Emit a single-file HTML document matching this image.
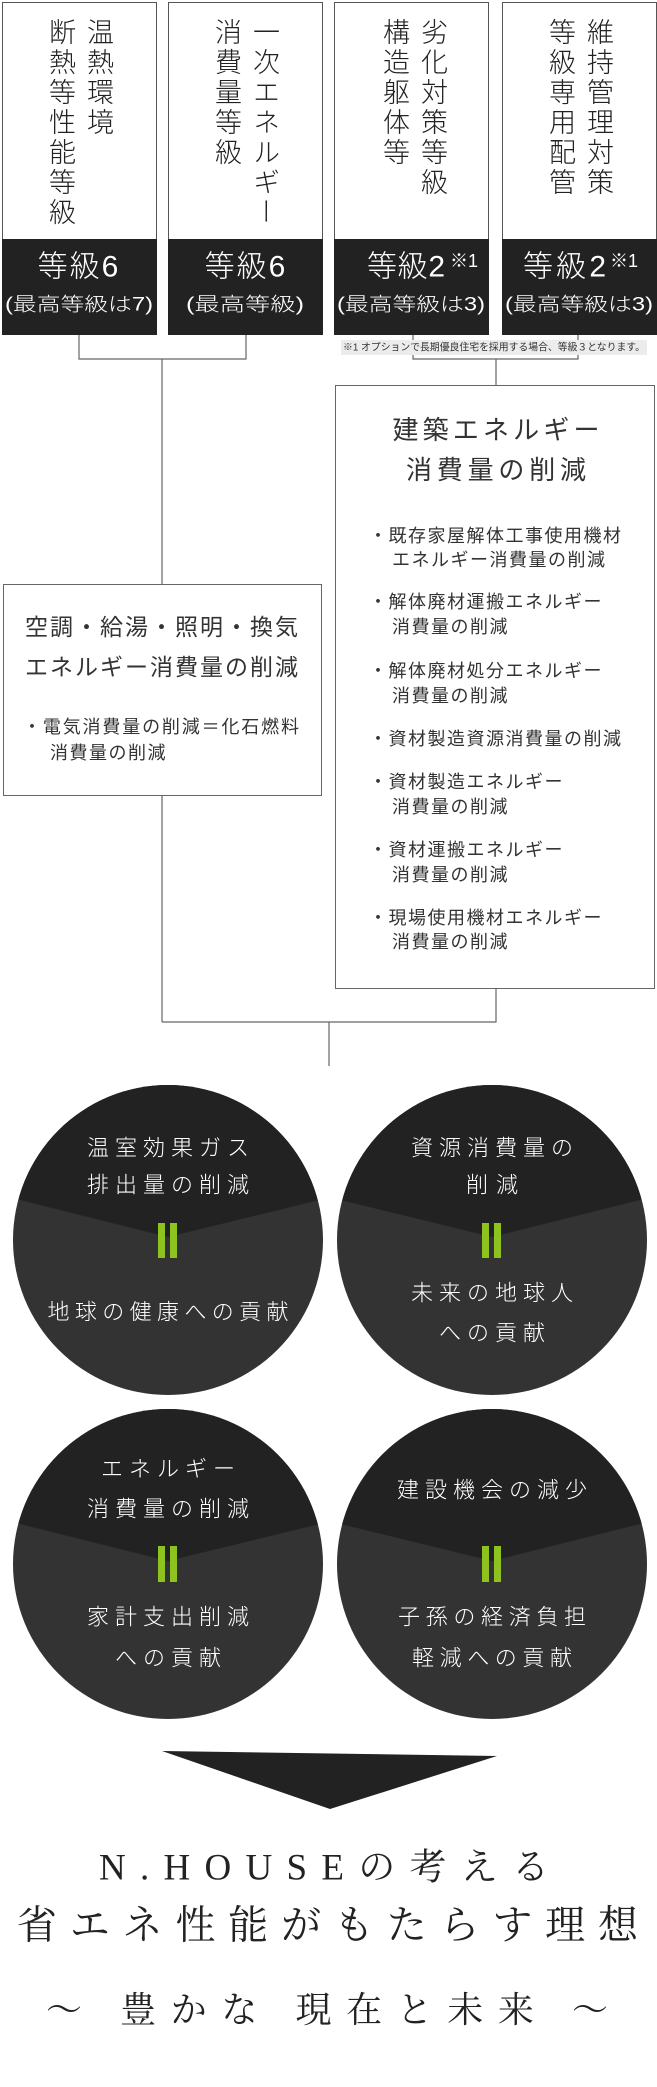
<!DOCTYPE html>
<html><head><meta charset="utf-8">
<style>
html,body{margin:0;padding:0;background:#fff;}
body{width:657px;height:2087px;position:relative;overflow:hidden;font-family:"Liberation Sans","Noto Sans CJK JP",sans-serif;}
.v{position:absolute;writing-mode:vertical-rl;font-size:27px;letter-spacing:3px;line-height:38px;color:#222;font-family:"Liberation Sans","Noto Sans CJK JP",sans-serif;font-weight:300;white-space:pre;}
svg{position:absolute;left:0;top:0;}
</style></head>
<body>
<svg width="657" height="2087" viewBox="0 0 657 2087" xmlns="http://www.w3.org/2000/svg" font-family="'Liberation Sans','Noto Sans CJK JP',sans-serif">
<defs>
<clipPath id="c1"><circle cx="168" cy="1240" r="155"/></clipPath>
<clipPath id="c2"><circle cx="492" cy="1240" r="155"/></clipPath>
<clipPath id="c3"><circle cx="168" cy="1564" r="155"/></clipPath>
<clipPath id="c4"><circle cx="492" cy="1564" r="155"/></clipPath>
</defs>
<g stroke="#666" stroke-width="1.2" fill="none">
<polyline points="79,335 79,359 246,359 246,335"/>
<line x1="162" y1="359" x2="162" y2="1022"/>
<polyline points="413,335 413,359 578,359 578,335"/>
<line x1="496" y1="359" x2="496" y2="385"/>
<polyline points="162,1022 496,1022 496,989"/>
<line x1="329" y1="1022" x2="329" y2="1066"/>
</g>
<g stroke="#555" stroke-width="1">
<rect x="2.5" y="2.5" width="154" height="332" fill="#fff"/>
<rect x="168.5" y="2.5" width="154" height="332" fill="#fff"/>
<rect x="334.5" y="2.5" width="154" height="332" fill="#fff"/>
<rect x="502.5" y="2.5" width="154" height="332" fill="#fff"/>
</g>
<g fill="#222">
<rect x="2" y="239" width="155" height="96"/>
<rect x="168" y="239" width="155" height="96"/>
<rect x="334" y="239" width="155" height="96"/>
<rect x="502" y="239" width="155" height="96"/>
</g>
<g fill="#fff" font-weight="300" dominant-baseline="central">
<text x="79" y="267" font-size="30" text-anchor="middle" letter-spacing="2">等級6</text>
<text x="246" y="267" font-size="30" text-anchor="middle" letter-spacing="2">等級6</text>
<text x="367" y="267" font-size="30" textLength="78" lengthAdjust="spacing">等級2</text>
<text x="450" y="261" font-size="18">※1</text>
<text x="523" y="267" font-size="30" textLength="83" lengthAdjust="spacing">等級2</text>
<text x="610" y="261" font-size="18">※1</text>
<text x="5" y="305" font-size="19" textLength="148" lengthAdjust="spacingAndGlyphs">(最高等級は7)</text>
<text x="186" y="305" font-size="19" textLength="118" lengthAdjust="spacingAndGlyphs">(最高等級)</text>
<text x="337" y="305" font-size="19" textLength="148" lengthAdjust="spacingAndGlyphs">(最高等級は3)</text>
<text x="505" y="305" font-size="19" textLength="148" lengthAdjust="spacingAndGlyphs">(最高等級は3)</text>
</g>
<rect x="341" y="340" width="306" height="15" fill="#ececec"/>
<text x="343" y="348" font-size="10" fill="#333" dominant-baseline="central" textLength="302" lengthAdjust="spacingAndGlyphs">※1 オプションで長期優良住宅を採用する場合、等級３となります。</text>
<rect x="335.5" y="385.5" width="319" height="603" fill="#fff" stroke="#666" stroke-width="1"/>
<g fill="#333" dominant-baseline="central">
<text x="496" y="430" font-size="26" text-anchor="middle" textLength="207" lengthAdjust="spacing">建築エネルギー</text>
<text x="496" y="470" font-size="26" text-anchor="middle" textLength="180" lengthAdjust="spacing">消費量の削減</text>
<g font-size="18" letter-spacing="1.5">
<text x="369" y="536">・既存家屋解体工事使用機材</text>
<text x="392" y="560">エネルギー消費量の削減</text>
<text x="369" y="602">・解体廃材運搬エネルギー</text>
<text x="392" y="627">消費量の削減</text>
<text x="369" y="671">・解体廃材処分エネルギー</text>
<text x="392" y="696">消費量の削減</text>
<text x="369" y="739">・資材製造資源消費量の削減</text>
<text x="369" y="782">・資材製造エネルギー</text>
<text x="392" y="807">消費量の削減</text>
<text x="369" y="850">・資材運搬エネルギー</text>
<text x="392" y="875">消費量の削減</text>
<text x="369" y="918">・現場使用機材エネルギー</text>
<text x="392" y="942">消費量の削減</text>
</g>
</g>
<rect x="3.5" y="584.5" width="318" height="211" fill="#fff" stroke="#666" stroke-width="1"/>
<g fill="#333" dominant-baseline="central">
<text x="25" y="627" font-size="23" textLength="273" lengthAdjust="spacing">空調・給湯・照明・換気</text>
<text x="25" y="667" font-size="23" textLength="273" lengthAdjust="spacing">エネルギー消費量の削減</text>
<text x="23" y="727" font-size="18" textLength="276" lengthAdjust="spacing">・電気消費量の削減＝化石燃料</text>
<text x="50" y="753" font-size="18" letter-spacing="1.5">消費量の削減</text>
</g>
<g>
<circle cx="168" cy="1240" r="155" fill="#333"/>
<polygon clip-path="url(#c1)" points="0,1080 340,1080 340,1195 168,1237 0,1195" fill="#222"/>
<circle cx="492" cy="1240" r="155" fill="#333"/>
<polygon clip-path="url(#c2)" points="320,1080 660,1080 660,1195 492,1237 320,1195" fill="#222"/>
<circle cx="168" cy="1564" r="155" fill="#333"/>
<polygon clip-path="url(#c3)" points="0,1400 340,1400 340,1519 168,1561 0,1519" fill="#222"/>
<circle cx="492" cy="1564" r="155" fill="#333"/>
<polygon clip-path="url(#c4)" points="320,1400 660,1400 660,1519 492,1561 320,1519" fill="#222"/>
</g>
<g fill="#8dc21f">
<rect x="158" y="1223" width="7" height="35"/><rect x="170" y="1223" width="7" height="35"/>
<rect x="482" y="1223" width="7" height="35"/><rect x="494" y="1223" width="7" height="35"/>
<rect x="158" y="1546" width="7" height="36"/><rect x="170" y="1546" width="7" height="36"/>
<rect x="482" y="1546" width="7" height="36"/><rect x="494" y="1546" width="7" height="36"/>
</g>
<g fill="#fff" font-size="22" text-anchor="middle" dominant-baseline="central" font-weight="300">
<text x="168" y="1148" textLength="162" lengthAdjust="spacing">温室効果ガス</text>
<text x="168" y="1185" textLength="162" lengthAdjust="spacing">排出量の削減</text>
<text x="168" y="1312" textLength="241" lengthAdjust="spacing">地球の健康への貢献</text>
<text x="492" y="1148" textLength="162" lengthAdjust="spacing">資源消費量の</text>
<text x="492" y="1185" textLength="52" lengthAdjust="spacing">削減</text>
<text x="492" y="1293" textLength="162" lengthAdjust="spacing">未来の地球人</text>
<text x="492" y="1333" textLength="106" lengthAdjust="spacing">への貢献</text>
<text x="168" y="1469" textLength="134" lengthAdjust="spacing">エネルギー</text>
<text x="168" y="1509" textLength="162" lengthAdjust="spacing">消費量の削減</text>
<text x="168" y="1617" textLength="162" lengthAdjust="spacing">家計支出削減</text>
<text x="168" y="1658" textLength="106" lengthAdjust="spacing">への貢献</text>
<text x="492" y="1490" textLength="190" lengthAdjust="spacing">建設機会の減少</text>
<text x="492" y="1617" textLength="188" lengthAdjust="spacing">子孫の経済負担</text>
<text x="492" y="1658" textLength="160" lengthAdjust="spacing">軽減への貢献</text>
</g>
<polygon points="162,1751 497,1756 330,1809" fill="#222"/>
<g fill="#222" font-family="'Liberation Serif','Noto Serif CJK JP',serif" font-weight="normal" dominant-baseline="central">
<text x="99" y="1868" font-size="37" textLength="450" lengthAdjust="spacing">N.HOUSEの考える</text>
<text x="17" y="1925" font-size="40" textLength="621" lengthAdjust="spacing">省エネ性能がもたらす理想</text>
<text x="46" y="2010" font-size="36" textLength="562" lengthAdjust="spacing">〜 豊かな 現在と未来 〜</text>
</g>
</svg>
<div class="v" style="left:41px;top:18px;width:76px;height:220px;">温熱環境
断熱等性能等級</div>
<div class="v" style="left:207px;top:18px;width:76px;height:220px;">一次エネルギー
消費量等級</div>
<div class="v" style="left:375px;top:18px;width:76px;height:220px;">劣化対策等級
構造躯体等</div>
<div class="v" style="left:541px;top:18px;width:76px;height:220px;">維持管理対策
等級専用配管</div>
</body></html>
